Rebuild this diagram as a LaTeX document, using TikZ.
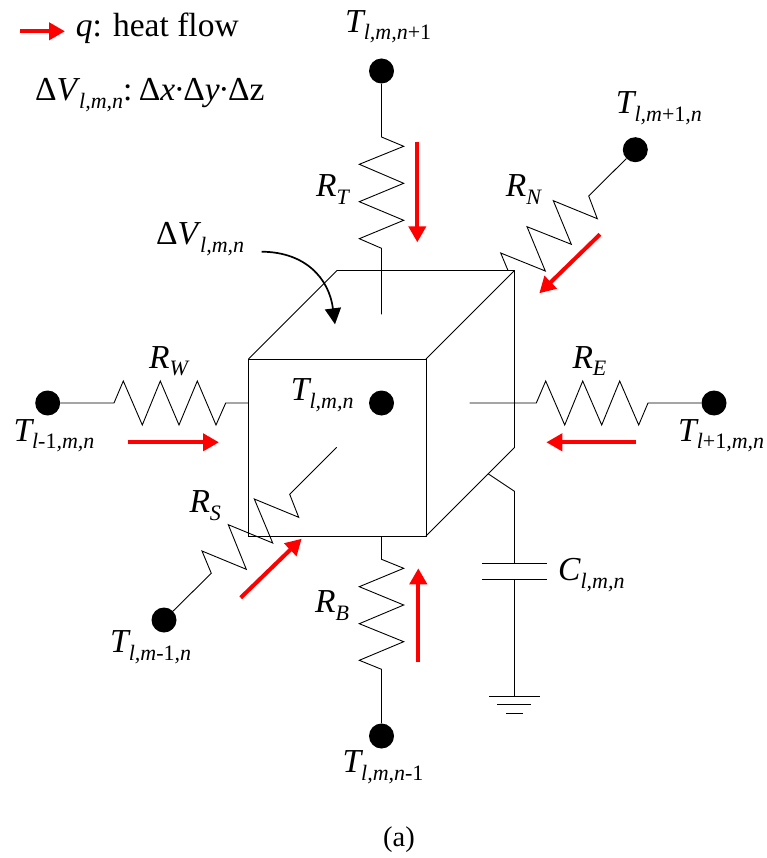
\documentclass[tikz,border=0pt]{standalone}
\usepackage{fontspec}
\setmainfont{Liberation Serif}
\usetikzlibrary{arrows.meta}
\newcommand{\sbs}[1]{\raisebox{-7.5pt}{\fontsize{22}{24}\selectfont\itshape #1}}
\newcommand{\up}[1]{\textup{#1}}
\tikzset{
  wire/.style={draw=black,line width=0.9pt,line join=miter},
  dotnode/.style={circle,fill=black,draw=none,minimum size=25pt,inner sep=0pt},
  lbl/.style={anchor=base west,inner sep=0pt,font=\fontsize{33.5}{36}\selectfont\itshape},
  heat/.style={draw=red,line width=4pt,-{Triangle[length=16pt,width=17pt]}},
  curved/.style={draw=black,line width=1.7pt,-{Triangle[length=16pt,width=16pt]}}
}
\begin{document}
\begin{tikzpicture}[x=1pt,y=-1pt]
\useasboundingbox (0,0) rectangle (766,858);
% terminals
\node[dotnode] (top) at (381.5,71) {};
\node[dotnode] (north) at (635.3,149.7) {};
\node[dotnode] (west) at (47.7,403) {};
\node[dotnode] (center) at (381.5,403) {};
\node[dotnode] (east) at (714,403) {};
\node[dotnode] (south) at (164,620) {};
\node[dotnode] (bottom) at (381.5,736) {};
% free ends
\coordinate (topend) at (381.5,314.3);
\coordinate (eastend) at (469.7,403);
\coordinate (southend) at (336.7,447.3);
\coordinate (botstart) at (381.5,536);
\coordinate (weststart) at (248.5,403);
\coordinate (northend) at (508,270.5);
\coordinate (capstart) at (488,473.7);
\coordinate (capA) at (514.5,563.3);
\coordinate (capB) at (514.5,579);
\coordinate (gnd) at (514.5,696.5);
% cube
\draw[wire] (248.5,359) rectangle (426,536);
\draw[wire] (248.5,359) -- (337,270.5) -- (514.5,270.5) -- (514.5,447.5) -- (426,536);
\draw[wire] (426,359) -- (514.5,270.5);
% resistors
\draw[wire] (top) -- (381.5,137) -- (403.7,146.3) -- (359.3,164.3) -- (403.7,183.3) -- (359.3,201.7) -- (403.7,220.3) -- (359.3,238.7) -- (381.5,248.3) -- (topend);
\draw[wire] (botstart) -- (381.5,559.3) -- (403.7,568.3) -- (359.3,586.7) -- (403.7,605) -- (359.3,623.7) -- (403.7,641.7) -- (359.3,660.3) -- (381.5,669.3) -- (bottom);
\draw[wire] (west) -- (114,403) -- (123.3,381) -- (142.3,425) -- (160.3,381) -- (179,425) -- (197.3,381) -- (216,425) -- (225.7,403) -- (weststart);
\draw[wire] (eastend) -- (536.3,403) -- (545.7,381) -- (564.7,425) -- (582.7,381) -- (601.7,425) -- (619.7,381) -- (638.7,425) -- (648,403) -- (east);
\draw[wire] (north) -- (588.7,196) -- (597.3,218.7) -- (553.3,200.7) -- (571.3,244.3) -- (527,226.7) -- (545.3,271) -- (500.7,253) -- (northend);
\draw[wire] (south) -- (211.3,573.3) -- (202,551) -- (246.3,569.3) -- (228.3,524.7) -- (272.7,543) -- (254.3,499) -- (298.7,517.3) -- (289.7,494.3) -- (southend);
% capacitor and ground
\draw[wire] (capstart) -- (514.5,491.3) -- (capA);
\draw[wire] (482,563.5) -- (547,563.5);
\draw[wire] (482,579) -- (547,579);
\draw[wire] (capB) -- (gnd);
\draw[wire] (489,696.5) -- (540,696.5);
\draw[wire] (497.3,704.7) -- (531.3,704.7);
\draw[wire] (506,713) -- (523,713);
% heat flow arrows
\coordinate (l1) at (20,31.3); \coordinate (l2) at (65,31.3);
\coordinate (t1) at (417.3,142); \coordinate (t2) at (417.3,242.3);
\coordinate (n1) at (600,234.3); \coordinate (n2) at (539.3,293.3);
\coordinate (w1) at (127.7,442.3); \coordinate (w2) at (219,442.3);
\coordinate (e1) at (635.7,442.3); \coordinate (e2) at (546.3,442.3);
\coordinate (s1) at (240.7,597.7); \coordinate (s2) at (301.7,538.7);
\coordinate (b1) at (418.3,662.3); \coordinate (b2) at (418.3,568.3);
\draw[heat] (l1) -- (l2);
\draw[heat] (t1) -- (t2);
\draw[heat] (n1) -- (n2);
\draw[heat] (w1) -- (w2);
\draw[heat] (e1) -- (e2);
\draw[heat] (s1) -- (s2);
\draw[heat] (b1) -- (b2);
% pointer
\coordinate (p1) at (261.7,251.7); \coordinate (p2) at (335,324.3);
\draw[curved] (p1) .. controls (305,252) and (329,278) .. (p2);
% labels
\node[lbl] (legq) at (75.7,36.7) {q\up{: heat flow}};
\node[lbl] (legv) at (35,100.7) {\up{Δ}V\kern2pt\sbs{l,m,n}\up{:\kern-2pt\ Δ}x\up{\kern-1.5pt·\kern-1.5ptΔ}y\up{\kern-1.5pt·\kern-1.5ptΔz}};
\node[lbl] (dv) at (156,245) {\up{Δ}V\kern2pt\sbs{l,m,n}};
\node[lbl] (ttop) at (345,32.5) {T\sbs{l,m,n\up{+1}}};
\node[lbl] (tnorth) at (615.7,114) {T\sbs{l,m\up{+1},n}};
\node[lbl] (tcenter) at (290.7,400.7) {T\sbs{l,m,n}};
\node[lbl] (twest) at (13.3,441) {T\sbs{l\up{-1},m,n}};
\node[lbl] (teast) at (678,441) {T\sbs{l\up{+1},m,n}};
\node[lbl] (tsouth) at (110,652.7) {T\sbs{l,m\up{-1},n}};
\node[lbl] (tbottom) at (342.3,772.7) {T\sbs{l,m,n\up{-1}}};
\node[lbl] (rt) at (316,196.7) {R\sbs{T}};
\node[lbl] (rn) at (505.7,196.7) {R\sbs{N}};
\node[lbl] (rw) at (149,368.3) {R\sbs{W}};
\node[lbl] (re) at (572.3,368.3) {R\sbs{E}};
\node[lbl] (rs) at (189.3,512.7) {R\sbs{S}};
\node[lbl] (rb) at (315,612.7) {R\sbs{B}};
\node[lbl] (cap) at (558,580.7) {C\sbs{l,m,n}};
\node[lbl,font=\fontsize{28.5}{30}\selectfont] (cap-a) at (383,846) {(a)};
\end{tikzpicture}
\end{document}
